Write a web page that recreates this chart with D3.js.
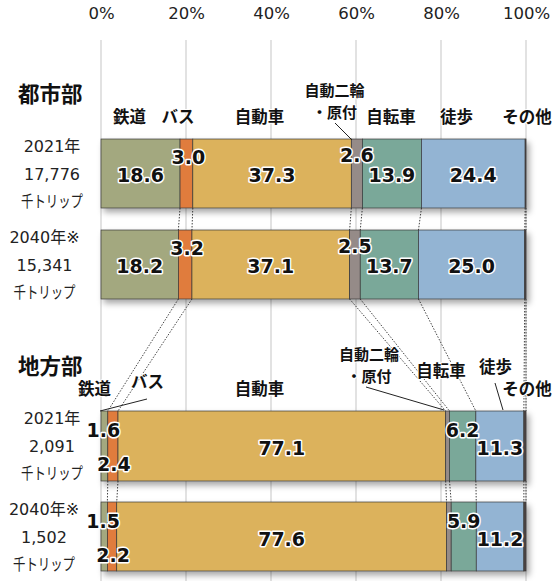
<!DOCTYPE html>
<html><head><meta charset="utf-8">
<script src="https://cdn.jsdelivr.net/npm/d3@7"></script>
<style>body{margin:0;background:#fff}</style>
</head><body>
<script>
const modes = ["鉄道","バス","自動車","自動二輪・原付","自転車","徒歩","その他"];
const colors = ["#a3a87f","#e07b3c","#dcb25b","#958b88","#7aa899","#93b4d3","#4f4643"];
const ticks = [0,20,40,60,80,100];
const urban2021 = [18.6,3.0,37.3,2.6,13.9,24.4,0.2];
const urban2040 = [18.2,3.2,37.1,2.5,13.7,25.0,0.3];
const rural2021 = [1.6,2.4,77.1,0.9,6.2,11.3,0.5];
const rural2040 = [1.5,2.2,77.6,1.1,5.9,11.2,0.5];
const rowYears = ["2021年","2040年※","2021年","2040年※"];
const rowTrips = ["17,776","15,341","2,091","1,502"];
const rowUnit = "千トリップ";
const sections = ["都市部","地方部"];
const shownUrban = [true,true,true,true,true,true,false];
const shownRural = [true,true,true,false,true,true,false];

const W=552,H=581;
const svg=d3.select("body").append("svg").attr("width",W).attr("height",H);
const defs=svg.append("defs");
const f=defs.append("filter").attr("id","sh").attr("x","-5%").attr("y","-20%").attr("width","115%").attr("height","150%");
f.append("feDropShadow").attr("dx",3).attr("dy",4).attr("stdDeviation",3).attr("flood-color","#000").attr("flood-opacity",0.35);

const x=d3.scaleLinear().domain([0,100]).range([101,526]);
const NUM="'DejaVu Sans','Noto Sans CJK JP',sans-serif";
const JP="'Noto Sans CJK JP',sans-serif";

// gridlines
svg.append("g").selectAll("line").data(ticks).join("line")
  .attr("x1",d=>x(d)).attr("x2",d=>x(d)).attr("y1",40).attr("y2",H)
  .attr("stroke","#d9d9d9").attr("stroke-width",1.5);
// top axis
const ax=svg.append("g").attr("transform","translate(0,22)")
  .call(d3.axisTop(x).tickValues(ticks).tickSize(0).tickFormat(d=>d+"%"));
ax.select(".domain").remove();
ax.selectAll("text").attr("font-family",NUM).attr("font-size",16.5).attr("fill","#222");

const rows=[
 {vals:urban2021,y0:139,y1:208,shown:shownUrban},
 {vals:urban2040,y0:230,y1:299,shown:shownUrban},
 {vals:rural2021,y0:411,y1:481,shown:shownRural},
 {vals:rural2040,y0:502,y1:571,shown:shownRural}
];
rows.forEach(r=>{
  let c=0; r.cum=r.vals.map(v=>{const s=c;c+=v;return [s,c];});
});

// dotted connectors
const conG=svg.append("g");
for(let i=0;i<3;i++){
  const a=rows[i],b=rows[i+1];
  a.cum.forEach((seg,k)=>{
    conG.append("line")
      .attr("x1",x(seg[1])).attr("y1",a.y1)
      .attr("x2",x(b.cum[k][1])).attr("y2",b.y0)
      .attr("stroke","#444").attr("stroke-width",1).attr("stroke-dasharray","1.5,1.5");
  });
}

// bars
rows.forEach(r=>{
  const g=svg.append("g").attr("filter","url(#sh)");
  g.selectAll("rect").data(r.cum).join("rect")
    .attr("x",d=>x(d[0])).attr("width",d=>x(d[1])-x(d[0]))
    .attr("y",r.y0).attr("height",r.y1-r.y0)
    .attr("fill",(d,i)=>colors[i]).attr("stroke","#3a3a3a").attr("stroke-width",0.7);
});

// value labels
const offsUrban=[[0,0],[2,-18],[0,0],[0,-20],[0,0],[0,0],[0,0]];
const offsRural=[[-1,-17],[1,17],[0,1],[0,0],[0,-17],[0,1],[0,0]];
rows.forEach((r,ri)=>{
  const offs=ri<2?offsUrban:offsRural;
  const cy=(r.y0+r.y1)/2+1;
  r.cum.forEach((seg,k)=>{
    if(!r.shown[k])return;
    svg.append("text").attr("x",(x(seg[0])+x(seg[1]))/2+offs[k][0]).attr("y",cy+offs[k][1])
      .attr("text-anchor","middle").attr("dominant-baseline","central")
      .attr("font-family",NUM).attr("font-weight","bold").attr("font-size",19)
      .attr("fill","#111").attr("stroke","#fff").attr("stroke-width",3).attr("stroke-linejoin","round")
      .attr("paint-order","stroke").text(r.vals[k].toFixed(1));
  });
});

// row labels
const rowCx=[52,44.5,52,44];
rows.forEach((r,ri)=>{
  const base=(r.y0+r.y1)/2;
  [[rowYears[ri],-28],[rowTrips[ri],0],[rowUnit,27]].forEach(([t,dy])=>{
    const tx=svg.append("text").attr("x",rowCx[ri]).attr("y",base+dy+0.5)
      .attr("text-anchor","middle").attr("dominant-baseline","central")
      .attr("font-family",NUM).attr("font-size",16).attr("fill","#222").text(t);
    if(t===rowUnit) tx.attr("textLength",62).attr("lengthAdjust","spacingAndGlyphs");
  });
});

// section titles
[[92,sections[0]],[364,sections[1]]].forEach(([y,t])=>{
  svg.append("text").attr("x",18).attr("y",y).attr("dominant-baseline","central")
    .attr("font-family",JP).attr("font-weight","bold").attr("font-size",21.5).attr("fill","#111").text(t);
});

// leader lines
const leaders=[
  [335,123,352,140],
  [100,411,147,399],
  [366,387,444,410],
  [495,383,503,410]
];
svg.append("g").selectAll("line").data(leaders).join("line")
  .attr("x1",d=>d[0]).attr("y1",d=>d[1]).attr("x2",d=>d[2]).attr("y2",d=>d[3])
  .attr("stroke","#222").attr("stroke-width",1);

// category labels
const catUrban=[[129.5,116,["鉄道"]],[178,116,["バス"]],[259.5,116,["自動車"]],[334.5,89,["自動二輪","・原付"]],[391,116,["自転車"]],[456.5,116,["徒歩"]],[527,116,["その他"]]];
const catRural=[[94.5,387.5,["鉄道"]],[147.5,381,["バス"]],[259.5,387.5,["自動車"]],[369,353.5,["自動二輪","・原付"]],[441,369.5,["自転車"]],[495.5,365.5,["徒歩"]],[527,387.5,["その他"]]];
catUrban.concat(catRural).forEach(([cx,cy,lines])=>{
  const fs=lines.length>1?15:16.5;
  const t=svg.append("text").attr("text-anchor","middle")
    .attr("font-family",JP).attr("font-weight","bold").attr("font-size",fs).attr("fill","#111")
    .attr("stroke","#fff").attr("stroke-width",2).attr("paint-order","stroke");
  lines.forEach((l,i)=>{
    t.append("tspan").attr("x",cx).attr("y",cy+i*22).attr("dominant-baseline","central").text(l);
  });
});
</script>
</body></html>
